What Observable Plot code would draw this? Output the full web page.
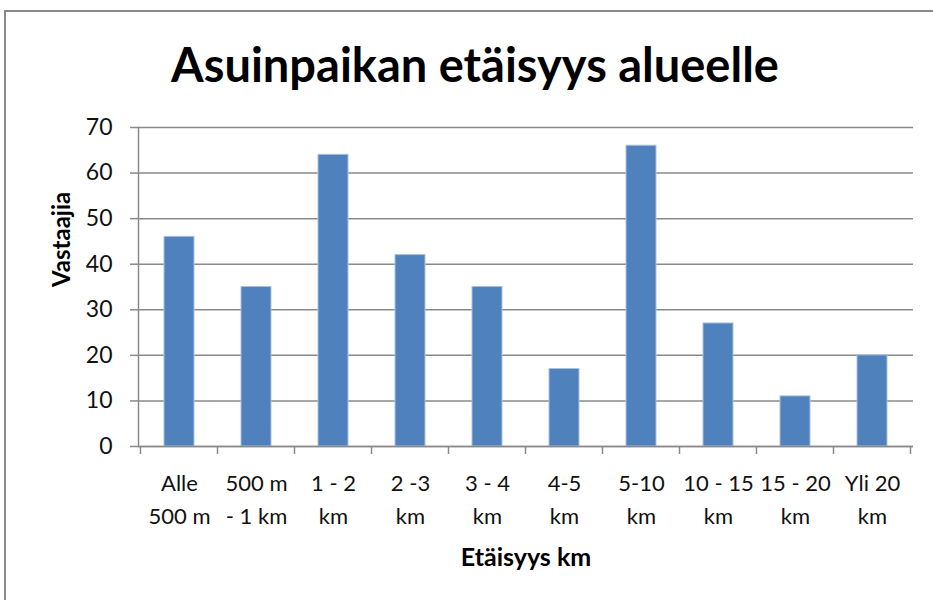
<!DOCTYPE html>
<html>
<head>
<meta charset="utf-8">
<script src="https://cdn.jsdelivr.net/npm/d3@7"></script>
<script src="https://cdn.jsdelivr.net/npm/@observablehq/plot@0.6"></script>
<style>
  html, body { margin: 0; padding: 0; background: #fff; }
  #wrap { position: relative; width: 933px; height: 600px; overflow: hidden; }
  #frame { position: absolute; left: 4px; top: 10px; width: 960px; height: 640px; border: 2px solid #8a8a8a; box-sizing: border-box; }
  #chart { position: absolute; left: 0; top: 0; }
</style>
</head>
<body>
<div id="wrap"><div id="frame"></div><div id="chart"></div></div>
<script>
const title = "Asuinpaikan etäisyys alueelle";
const xLabel = "Etäisyys km";
const yLabel = "Vastaajia";
const categories = ["Alle\n500 m", "500 m\n- 1 km", "1 - 2\nkm", "2 -3\nkm", "3 - 4\nkm", "4-5\nkm", "5-10\nkm", "10 - 15\nkm", "15 - 20\nkm", "Yli 20\nkm"];
const values = [46, 35, 64, 42, 35, 17, 66, 27, 11, 20];
const yTicks = [0, 10, 20, 30, 40, 50, 60, 70];

const data = categories.map((c, i) => ({category: c, value: values[i]}));
const font = "Lato, 'Open Sans', sans-serif";
const gray = "#8a8a8a";

// tick marks at the category boundaries, placed with the x band scale
function boundaryTicks(index, scales, values, dimensions) {
  const x = scales.x, y = scales.y;
  const step = x.step ? x.step() : x.bandwidth();
  const y0 = y(0);
  const g = d3.create("svg:g").attr("stroke", gray).attr("stroke-width", 1.5);
  const xs = categories.map(c => x(c) + x.bandwidth() / 2 - step / 2);
  xs.push(x(categories[categories.length - 1]) + x.bandwidth() / 2 + step / 2);
  for (const px of xs) {
    g.append("line").attr("x1", px).attr("x2", px).attr("y1", y0).attr("y2", y0 + 8);
  }
  return g.node();
}

const chart = Plot.plot({
  width: 933,
  height: 600,
  marginTop: 127,
  marginBottom: 154,
  marginLeft: 138,
  marginRight: 20,
  style: {fontFamily: font, background: "transparent"},
  x: {domain: categories, paddingInner: 0.61, paddingOuter: 0.305},
  y: {domain: [0, 70]},
  marks: [
    Plot.gridY(yTicks, {stroke: gray, strokeOpacity: 1, strokeWidth: 1.5}),
    Plot.barY(data, {x: "category", y: "value", fill: "#4F81BD", stroke: "#a9c1df", strokeWidth: 1}),
    Plot.ruleY([0], {stroke: gray, strokeWidth: 1.5}),
    Plot.frame({anchor: "left", stroke: gray, strokeWidth: 1.5}),
    boundaryTicks,
    Plot.axisY({ticks: yTicks, tickSize: 8, tickPadding: 18, fontSize: 23, stroke: gray, strokeWidth: 1.5, fill: "#111", label: null}),
    Plot.axisX({tickSize: 0, tickPadding: 20.6, fontSize: 22, lineHeight: 1.5, fill: "#111", label: null}),
    Plot.text([title], {frameAnchor: "top", dx: -51, dy: -61, fontSize: 47, fontWeight: "bold", fill: "#000", lineAnchor: "middle"}),
    Plot.text([xLabel], {frameAnchor: "bottom", dy: 119, fontSize: 25, fontWeight: "bold", fill: "#000"}),
    Plot.text([yLabel], {frameAnchor: "left", dx: -76, rotate: -90, fontSize: 24, fontWeight: "bold", fill: "#000"})
  ]
});
document.getElementById("chart").appendChild(chart);
</script>
</body>
</html>
